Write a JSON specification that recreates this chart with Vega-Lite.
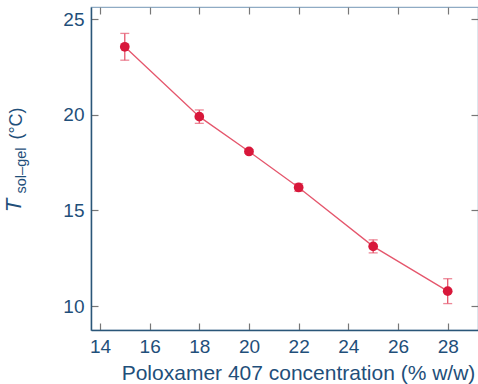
{
  "$schema": "https://vega.github.io/schema/vega-lite/v6.json",
  "width": 387,
  "height": 323,
  "autosize": {"type": "none"},
  "padding": {"left": 91, "top": 7, "right": 0, "bottom": 54},
  "background": "white",
  "config": {
    "font": "Liberation Sans",
    "view": {"stroke": "#8fabc4", "strokeWidth": 1.2},
    "axis": {"grid": false, "labelFont": "Liberation Sans", "titleFont": "Liberation Sans", "labelColor": "#1f4f7a", "titleColor": "#1f4f7a", "labelFontSize": 19, "titleFontSize": 18, "titleFontWeight": "normal", "tickColor": "#777777", "tickSize": -7, "tickWidth": 1.2, "domainColor": "#2a5678", "domainWidth": 1.5}
  },
  "data": {"values": [
    {"c": 15, "t": 23.55, "lo": 22.85, "hi": 24.25},
    {"c": 18, "t": 19.9, "lo": 19.55, "hi": 20.25},
    {"c": 20, "t": 18.08, "lo": 17.98, "hi": 18.18},
    {"c": 22, "t": 16.2, "lo": 16.0, "hi": 16.4},
    {"c": 25, "t": 13.12, "lo": 12.78, "hi": 13.46},
    {"c": 28, "t": 10.78, "lo": 10.13, "hi": 11.43}
  ]},
  "layer": [
    {
      "layer": [
        {
          "mark": {"type": "line", "color": "#e5566c", "strokeWidth": 1.3},
          "encoding": {
            "x": {"field": "c", "type": "quantitative", "scale": {"domain": [13.64, 29.22], "nice": false, "zero": false}, "axis": {"orient": "bottom", "values": [14, 16, 18, 20, 22, 24, 26, 28], "labelPadding": 14, "title": "Poloxamer 407 concentration (% w/w)", "titleFontSize": 21, "titleX": 207, "titleY": 32, "titleBaseline": "top"}},
            "y": {"field": "t", "type": "quantitative", "scale": {"domain": [8.75, 25.63], "nice": false, "zero": false}, "axis": {"orient": "left", "values": [10, 15, 20, 25], "labelPadding": 14, "title": "T", "titleFontStyle": "italic", "titleFontSize": 22, "titleX": -66, "titleY": 198, "titleBaseline": "bottom"}}
          }
        },
        {
          "mark": {"type": "rule", "color": "#e5566c", "strokeWidth": 1.3},
          "encoding": {
            "x": {"field": "c", "type": "quantitative"},
            "y": {"field": "lo", "type": "quantitative"},
            "y2": {"field": "hi"}
          }
        },
        {
          "mark": {"type": "tick", "color": "#e5566c", "orient": "horizontal", "size": 9, "thickness": 1.3},
          "encoding": {
            "x": {"field": "c", "type": "quantitative"},
            "y": {"field": "lo", "type": "quantitative"}
          }
        },
        {
          "mark": {"type": "tick", "color": "#e5566c", "orient": "horizontal", "size": 9, "thickness": 1.3},
          "encoding": {
            "x": {"field": "c", "type": "quantitative"},
            "y": {"field": "hi", "type": "quantitative"}
          }
        },
        {
          "mark": {"type": "circle", "color": "#d8173a", "opacity": 1, "size": 95},
          "encoding": {
            "x": {"field": "c", "type": "quantitative"},
            "y": {"field": "t", "type": "quantitative"}
          }
        }
      ]
    },
    {
      "mark": {"type": "point", "opacity": 0},
      "encoding": {
        "x": {"field": "c", "type": "quantitative", "axis": {"orient": "top", "values": [14, 16, 18, 20, 22, 24, 26, 28], "labels": false, "title": null, "domain": false}},
        "y": {"field": "t", "type": "quantitative", "axis": {"orient": "right", "values": [10, 15, 20, 25], "labels": false, "title": null, "domain": false}}
      }
    },
    {
      "mark": {"type": "point", "opacity": 0},
      "encoding": {
        "x": {"field": "c", "type": "quantitative", "axis": null},
        "y": {"field": "t", "type": "quantitative", "axis": {"orient": "left", "labels": false, "ticks": false, "domain": false, "title": "sol–gel", "titleFontSize": 14.5, "titleX": -63, "titleY": 163, "titleBaseline": "bottom"}}
      }
    },
    {
      "mark": {"type": "point", "opacity": 0},
      "encoding": {
        "x": {"field": "c", "type": "quantitative", "axis": null},
        "y": {"field": "t", "type": "quantitative", "axis": {"orient": "left", "labels": false, "ticks": false, "domain": false, "title": "(°C)", "titleFontSize": 18, "titleX": -66, "titleY": 116, "titleBaseline": "bottom"}}
      }
    }
  ],
  "resolve": {"axis": {"x": "independent", "y": "independent"}}
}
